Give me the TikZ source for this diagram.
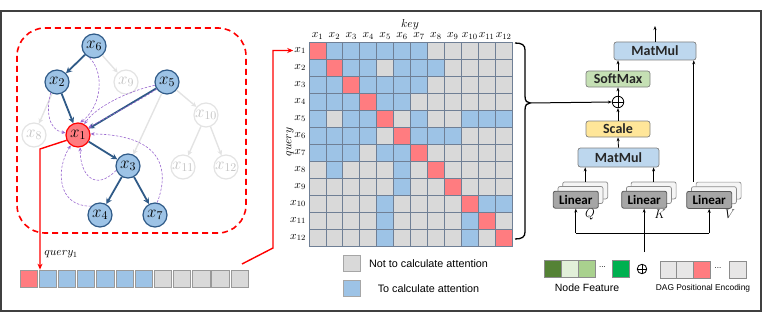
\RequirePackage{fix-cm}
\documentclass[tikz,border=0pt]{standalone}
\usepackage{fontspec}
\newfontfamily\arialf{Liberation Sans}
\newfontfamily\calibf{Carlito}
\usetikzlibrary{arrows.meta,calc}
\definecolor{nblue}{HTML}{9DC3E6}
\definecolor{nblueb}{HTML}{2F5A87}
\definecolor{tblue}{HTML}{2F5A87}
\definecolor{nred}{HTML}{FF7C80}
\definecolor{lgr}{HTML}{E3E3E3}
\definecolor{lgtext}{HTML}{C4C4C4}
\definecolor{attp}{HTML}{9A68CF}
\definecolor{cgray}{HTML}{D9D9D9}
\definecolor{cblue}{HTML}{9DC3E6}
\definecolor{gridc}{HTML}{6F7F95}
\definecolor{mmblue}{HTML}{BDD7EE}
\definecolor{smgreen}{HTML}{C5E0B4}
\definecolor{scyellow}{HTML}{FFE699}
\definecolor{lingray}{HTML}{A6A6A6}
\definecolor{frmc}{HTML}{404040}
\definecolor{gA}{HTML}{548235}
\definecolor{gB}{HTML}{E2F0D9}
\definecolor{gC}{HTML}{A9D18E}
\definecolor{gD}{HTML}{00B050}
\definecolor{dagg}{HTML}{E7E6E6}
\tikzset{
 tn/.style={circle, minimum size=24pt, inner sep=0pt, line width=1.2pt, font=\fontsize{17}{17}\selectfont},
 bn/.style={tn, draw=nblueb, fill=nblue},
 rn/.style={tn, draw=red, fill=nred},
 gn/.style={tn, draw=lgr, fill=white, text=lgtext},
 tedge/.style={draw=tblue, line width=1.8pt, -{Stealth[length=6pt,width=6pt]}},
 gedge/.style={draw=lgr, line width=1.4pt, -{Stealth[length=5pt,width=5pt]}},
 att/.style={draw=attp, line width=0.6pt, dash pattern=on 2.5pt off 1.5pt, -{Stealth[length=4pt,width=3.5pt]}},
 redl/.style={draw=red, line width=1.4pt},
 arr/.style={draw=black, line width=0.8pt, -{Stealth[length=4pt,width=3pt]}},
 tbox/.style={draw=black!50, rounded corners=2.5pt, line width=0.7pt, inner sep=0pt, font=\calibf\bfseries\fontsize{14}{14}\selectfont, text=black!85},
 linf/.style={draw=black!65, fill=lingray, rounded corners=2pt, minimum width=45pt, minimum height=17pt, inner sep=0pt, line width=0.8pt, font=\calibf\bfseries\fontsize{13}{13}\selectfont},
 linb/.style={draw=black!45, fill=black!4, rounded corners=2pt, minimum width=45pt, minimum height=17pt, inner sep=0pt, line width=0.7pt},
 qcell/.style={minimum width=17.3pt, minimum height=17pt, inner sep=0pt, line width=0.7pt, draw=black!40},
 mlab/.style={font=\fontsize{11.5}{11.5}\selectfont, inner sep=0pt},
 sq/.style={minimum width=17pt, minimum height=16.5pt, inner sep=0pt, line width=0.7pt, draw=black!45},
 pluss/.style={circle, draw=black, line width=0.8pt, inner sep=0pt},
}
\begin{document}
\begin{tikzpicture}[x=1pt,y=-1pt]
\useasboundingbox (0,0) rectangle (763,313);
\draw[frmc, line width=1.2pt] (1,11) rectangle (761,311);
\draw[red, line width=1.6pt, dash pattern=on 6pt off 4pt, rounded corners=28pt] (17,28) rectangle (246,233);

% tree nodes
\node[bn] (x6) at (94,46) {$x_6$};
\node[gn] (x9) at (126,82) {$x_9$};
\node[bn] (x2) at (57,82) {$x_2$};
\node[bn] (x5) at (167,82) {$x_5$};
\node[gn] (x10) at (206,115) {$x_{10}$};
\node[gn] (x8) at (34,135) {$x_8$};
\node[rn] (x1) at (78,135) {$x_1$};
\node[bn] (x3) at (128,166) {$x_3$};
\node[gn] (x11) at (183,167) {$x_{11}$};
\node[gn] (x12) at (226,167) {$x_{12}$};
\node[bn] (x4) at (100,215) {$x_4$};
\node[bn] (x7) at (155,215) {$x_7$};

% gray edges
\draw[gedge] (x6) -- (x9);
\draw[gedge] (x2) -- (x8);
\draw[gedge] (x5) -- (x10);
\draw[gedge] (x5) -- (x3);
\draw[gedge] (x10) -- (x11);
\draw[gedge] (x10) -- (x12);
% tree edges
\draw[tedge] (x6) -- (x2);
\draw[tedge] (x2) -- (x1);
\draw[tedge] (x5) -- (x1);
\draw[tedge] (x1) -- (x3);
\draw[tedge] (x3) -- (x4);
\draw[tedge] (x3) -- (x7);
% attention dashed
\draw[att] (x6.250) .. controls (106,75) and (100,108) .. (x1.80);
\draw[att] (x2.240) .. controls (46,110) and (48,130) .. (x1.170);
\draw[att] (x5.195) .. controls (125,92) and (95,108) .. (x1.60);
\draw[att] (x5.215) .. controls (132,105) and (105,118) .. (x1.35);
\draw[att] (x7.80) .. controls (168,175) and (168,135) .. (x1.5);
\draw[att] (x3.200) .. controls (95,192) and (80,175) .. (x1.-80);
\draw[att] (x4.135) .. controls (58,207) and (55,170) .. (x1.-125);

% query row
\foreach \i in {1,...,12}{
  \ifnum\i=1 \def\qc{nred}\else\ifnum\i<8 \def\qc{cblue}\else\def\qc{cgray}\fi\fi
  \node[qcell, fill=\qc] (q\i) at ({28.65+(\i-1)*19.18},278.5) {};
}
\node[font=\fontsize{11.5}{11.5}\selectfont, inner sep=0pt] (qlab) at (61,254) {$query_1$};
\coordinate (qa) at (40,149);
\draw[redl, -{Stealth[length=6pt,width=5pt]}] (x1.205) -- (qa) -- (qa |- q2.north west);

% matrix
\foreach \r in {1,...,12}{
  \foreach \c in {1,...,12}{
    \draw[gridc, line width=0.7pt, fill=cgray] ({309+(\c-1)*16.92},{42+(\r-1)*17}) rectangle ++(16.92,17);
  }
}
\foreach \r/\cl in {1/{2,3,4,5,6,7}, 2/{1,3,4,6,7,8}, 3/{1,2,4,5,6,7}, 4/{1,2,3,5,6}, 5/{1,3,4,7,10,11,12}, 6/{1,2,3,4,7,8,9}, 7/{1,2,3,5,6}, 8/{2,6}, 9/{6}, 10/{5,11,12}, 11/{5,10}, 12/{5,10}}{
  \foreach \c in \cl {
    \draw[gridc, line width=0.7pt, fill=cblue] ({309+(\c-1)*16.92},{42+(\r-1)*17}) rectangle ++(16.92,17);
  }
}
\foreach \r in {1,...,12}{
  \draw[gridc, line width=0.7pt, fill=nred] ({309+(\r-1)*16.92},{42+(\r-1)*17}) rectangle ++(16.92,17);
}
\foreach \c in {1,...,12}{
  \node[mlab, anchor=base] (c\c) at ({309+(\c-0.5)*16.92},37.5) {$x_{\c}$};
  \node[mlab, anchor=east] (r\c) at (306,{42+(\c-0.5)*17}) {$x_{\c}$};
}
\node[mlab, anchor=base] (key) at (410,27.5) {$key$};
\node[mlab, rotate=90] (qry) at (290,142) {$query$};

\coordinate (qb) at (242,264);
\coordinate (qc) at (273,248);
\draw[redl, -{Stealth[length=6pt,width=5pt]}] (qb) -- (qc) -- (qc |- r1.west) -- ([xshift=-1pt]r1.west);

% legend
\node[sq, fill=cgray, draw=black!35] (lg1) at (351.5,263.5) {};
\node[sq, fill=cblue, draw=black!35] (lg2) at (351.5,288.5) {};
\node[font=\arialf\fontsize{10.8}{11}\selectfont, inner sep=0pt] (lt1) at (428.5,263.5) {Not to calculate attention};
\node[font=\arialf\fontsize{10.8}{11}\selectfont, inner sep=0pt] (lt2) at (428.5,289) {To calculate attention};

% brace
\draw[black, line width=1.3pt] (515,43) .. controls (522,43) and (525,45) .. (525,50) -- (525,96) .. controls (525,101) and (527,103) .. (530,103) .. controls (527,103) and (525,105) .. (525,110) -- (525,232) .. controls (525,237) and (522,239) .. (515,239);
\coordinate (btip) at (530,103);

% transformer part
\node[tbox, fill=mmblue, minimum width=82pt, minimum height=18pt] (mmtop) at (655,51) {MatMul};
\node[tbox, fill=smgreen, minimum width=64pt, minimum height=16pt] (soft) at (618,79) {SoftMax};
\node[pluss, minimum size=11.5pt] (plus) at (618,102) {};
\draw[line width=0.8pt] (plus.north) -- (plus.south) (plus.west) -- (plus.east);
\node[tbox, fill=scyellow, minimum width=64pt, minimum height=16pt] (scale) at (618,129) {Scale};
\node[tbox, fill=mmblue, minimum width=81pt, minimum height=19pt] (mmlow) at (618.5,157.5) {MatMul};

\node[linb] (LQb) at (585.2,190.4) {};
\node[linb] (LQm) at (580.5,195) {};
\node[linf] (LQ) at (575.8,199.7) {Linear};
\node[linb] (LKb) at (653.6,190.4) {};
\node[linb] (LKm) at (648.9,195) {};
\node[linf] (LK) at (644.2,199.7) {Linear};
\node[linb] (LVb) at (718.6,190.6) {};
\node[linb] (LVm) at (713.9,195.2) {};
\node[linf] (LV) at (709.2,199.9) {Linear};
\node[font=\fontsize{12.5}{12.5}\selectfont, inner sep=0pt] (Ql) at (590,214) {$Q$};
\node[font=\fontsize{12.5}{12.5}\selectfont, inner sep=0pt] (Kl) at (660,214) {$K$};
\node[font=\fontsize{12.5}{12.5}\selectfont, inner sep=0pt] (Vl) at (730,214) {$V$};

\coordinate (out) at (655,26);
\draw[arr] (mmtop.north) -- (out);
\draw[arr] (soft.north) -- (soft.north |- mmtop.south);
\draw[arr] (plus.north) -- (soft.south);
\draw[arr] (scale.north) -- (plus.south);
\draw[arr] (mmlow.north) -- (scale.south);
\draw[arr] (LQb.north) -- (LQb.north |- mmlow.south);
\draw[arr] (LKb.north) -- (LKb.north |- mmlow.south);
\draw[arr] ([xshift=-2pt]LVb.north west) -- ([xshift=-2pt]LVb.north west |- mmtop.south);
\draw[arr, line width=1pt] (btip) -- (plus.west);

\coordinate (bus) at (0,233);
\draw[line width=0.8pt] (LQ.south |- bus) -- (LV.south |- bus);
\draw[arr] (LQ.south |- bus) -- (LQ.south);
\draw[arr] (LV.south |- bus) -- (LV.south);
\coordinate (inp) at (644.2,252);
\draw[arr] (inp) -- (LK.south);

% node feature
\node[sq, fill=gA] (f1) at (552.5,269) {};
\node[sq, fill=gB] (f2) at (569.5,269) {};
\node[sq, fill=gC] (f3) at (586.5,269) {};
\node[font=\arialf\fontsize{8}{8}\selectfont, inner sep=0pt] (fd) at (602.5,267.5) {...};
\node[sq, fill=gD] (f4) at (620.5,269) {};
\node[pluss, minimum size=9.5pt] (plus2) at (642,269) {};
\draw[line width=0.8pt] (plus2.north) -- (plus2.south) (plus2.west) -- (plus2.east);
\node[font=\arialf\fontsize{10.5}{11}\selectfont, inner sep=0pt] (nft) at (587,287.5) {Node Feature};

\node[sq, fill=dagg] (d1) at (668.5,270) {};
\node[sq, fill=dagg] (d2) at (685.2,270) {};
\node[sq, fill=nred] (d3) at (701.8,270) {};
\node[font=\arialf\fontsize{8}{8}\selectfont, inner sep=0pt] (dd) at (718,268.5) {...};
\node[sq, fill=dagg] (d4) at (737.5,270) {};
\node[font=\arialf\fontsize{8.4}{9}\selectfont, inner sep=0pt] (dpt) at (703,288) {DAG Positional Encoding};
\end{tikzpicture}
\end{document}
